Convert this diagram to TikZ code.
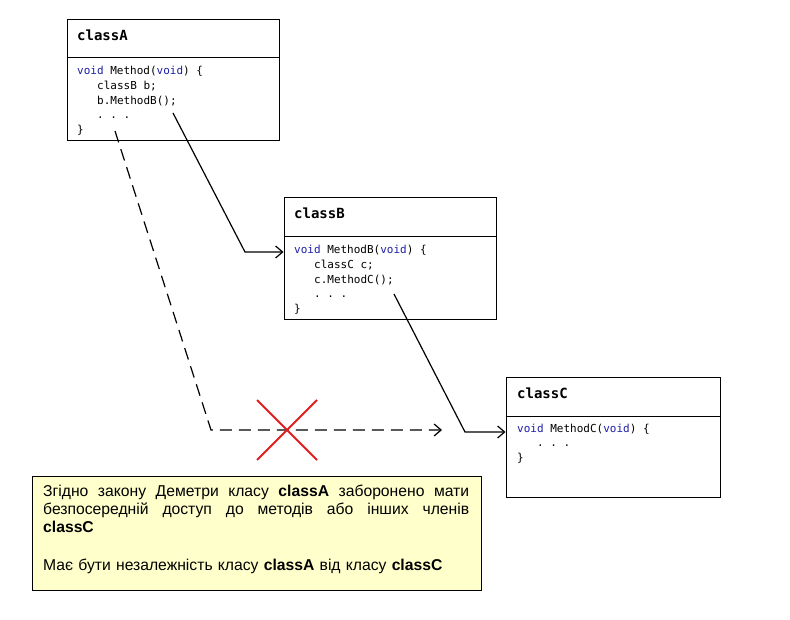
\documentclass[tikz,border=0pt]{standalone}
\usepackage{fontspec}
\setmainfont{Liberation Sans}
\newfontfamily\codefont{DejaVu Sans Mono}
\usetikzlibrary{arrows.meta,calc}
\definecolor{kwblue}{RGB}{30,30,170}
\definecolor{notefill}{RGB}{255,255,204}
\definecolor{xred}{RGB}{225,30,30}
\tikzset{
  classbox/.style={draw=black, line width=1pt, fill=white, minimum width=212pt, minimum height=121pt, inner sep=0pt},
  titletext/.style={anchor=base west, inner sep=0pt, font=\codefont\bfseries\fontsize{14}{16}\selectfont},
  codetext/.style={anchor=base west, inner sep=0pt, font=\codefont\fontsize{11}{13}\selectfont},
  conn/.style={line width=1.2pt, -{Straight Barb[length=7pt,width=12pt,line width=1.2pt]}},
  dashconn/.style={conn, dash pattern=on 12pt off 7pt},
  notebox/.style={draw=black, line width=0.8pt, fill=notefill, minimum width=449pt, minimum height=114pt, inner sep=0pt},
  notetext/.style={anchor=base west, inner sep=0pt, text width=426pt, align=left, font=\fontsize{15.7}{18}\selectfont},
  cross/.style={draw=xred, line width=1.8pt}
}
\newcommand{\kw}[1]{\textcolor{kwblue}{#1}}
\newcommand{\fullline}[1]{\makebox[426pt][s]{\spaceskip=0pt\xspaceskip=0pt #1}}
\begin{document}
\begin{tikzpicture}[x=1pt,y=-1pt]
\useasboundingbox (0,0) rectangle (790,620);
% class A
\node[classbox] (A) at (173,80.5) {};
\draw[line width=1pt] (A.west |- 0,58) -- (A.east |- 0,58);
\node[titletext] (Atitle) at (77,41) {classA};
\node[codetext] (A1) at (77,75) {\kw{void} Method(\kw{void}) \{};
\node[codetext] (A2) at (97,89.7) {classB b;};
\node[codetext] (A3) at (97,104.4) {b.MethodB();};
\node[codetext] (A4) at (97,119) {.\ .\ .};
\node[codetext] (A5) at (77,133.5) {\}};
% class B
\node[classbox, minimum height=122pt] (B) at (390,259) {};
\draw[line width=1pt] (B.west |- 0,237) -- (B.east |- 0,237);
\node[titletext] (Btitle) at (294,219) {classB};
\node[codetext] (B1) at (294,254) {\kw{void} MethodB(\kw{void}) \{};
\node[codetext] (B2) at (314,268.7) {classC c;};
\node[codetext] (B3) at (314,283.4) {c.MethodC();};
\node[codetext] (B4) at (314,298) {.\ .\ .};
\node[codetext] (B5) at (294,312.5) {\}};
% class C
\node[classbox, minimum width=214pt, minimum height=120pt] (C) at (613,437) {};
\draw[line width=1pt] (C.west |- 0,416) -- (C.east |- 0,416);
\node[titletext] (Ctitle) at (517,398) {classC};
\node[codetext] (C1) at (517,432) {\kw{void} MethodC(\kw{void}) \{};
\node[codetext] (C2) at (537,446.7) {.\ .\ .};
\node[codetext] (C3) at (517,461.4) {\}};
% connectors
\coordinate (a1) at (173,113);
\coordinate (a2) at (245,252);
\coordinate (b1) at (394,294);
\coordinate (b2) at (465,432);
\coordinate (d1) at (115,131);
\coordinate (d2) at (211,430);
\coordinate (d3) at (442,430);
\draw[conn] (a1) -- (a2) -- (a2 -| B.west);
\draw[conn] (b1) -- (b2) -- (b2 -| C.west);
\draw[dashconn] (d1) -- (d2) -- (d3);
% red cross
\coordinate (x0) at (287,430);
\draw[cross] ($(x0)+(-30,-30)$) -- ($(x0)+(30,30)$);
\draw[cross] ($(x0)+(30,-30)$) -- ($(x0)+(-30,30)$);
% note
\node[notebox] (note) at (256.5,533) {};
\node[notetext] (notetxt) at (43,496) {\fullline{Згідно закону Деметри класу \textbf{classA} заборонено мати}\\
\fullline{безпосередній доступ до методів або інших членів}\\
\textbf{classC}\\[20pt]
Має бути незалежність класу \textbf{classA} від класу \textbf{classC}};
\end{tikzpicture}
\end{document}
